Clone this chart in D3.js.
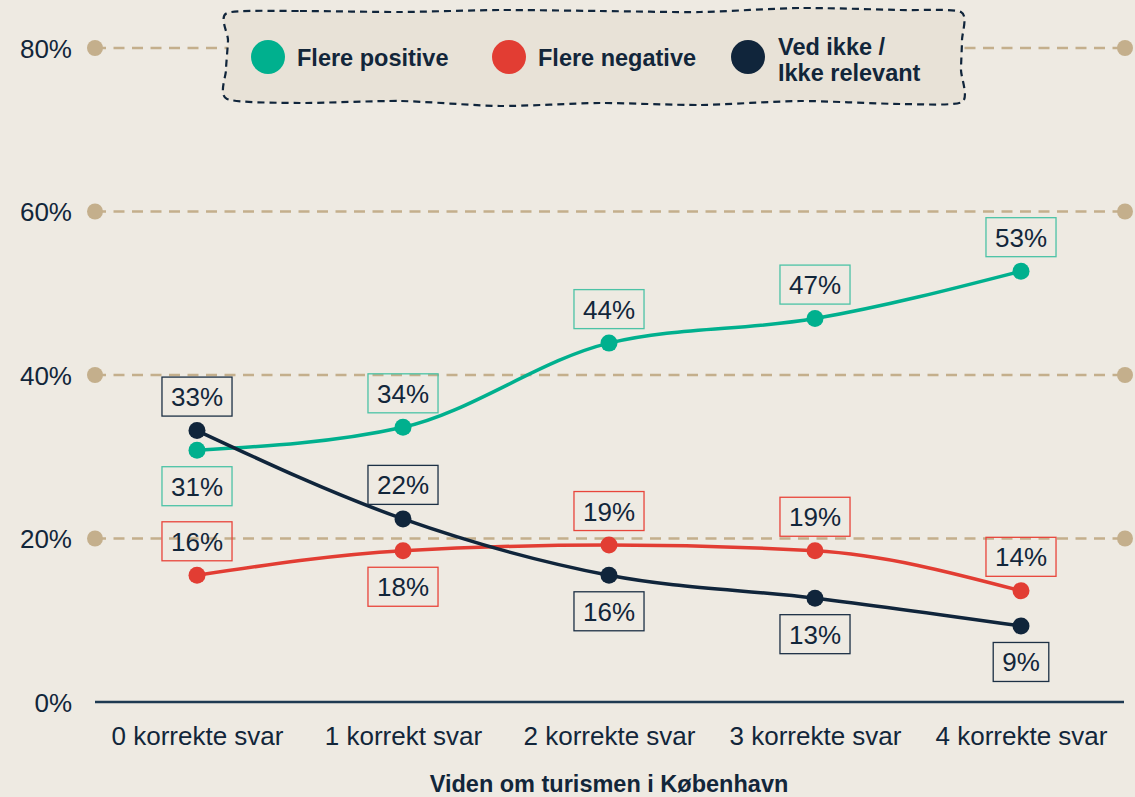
<!DOCTYPE html>
<html><head><meta charset="utf-8">
<script src="https://cdn.jsdelivr.net/npm/d3@7"></script>
<style>
body{margin:0;background:#EEEAE2;}
svg{display:block;font-family:"Liberation Sans",Arial,sans-serif;}
</style></head><body>
<svg id="c" width="1135" height="797"></svg>
<script>
const categories = ["0 korrekte svar","1 korrekt svar","2 korrekte svar","3 korrekte svar","4 korrekte svar"];
const positive = [30.8, 33.6, 43.9, 46.9, 52.7];
const negative = [15.5, 18.5, 19.2, 18.5, 13.6];
const unknown  = [33.2, 22.4, 15.5, 12.7, 9.3];
const positiveLabels = ["31%","34%","44%","47%","53%"];
const negativeLabels = ["16%","18%","19%","19%","14%"];
const unknownLabels  = ["33%","22%","16%","13%","9%"];
const positiveSide = [1,-1,-1,-1,-1];
const negativeSide = [-1,1,-1,-1,-1];
const unknownSide  = [-1,-1,1,1,1];
const yTicks = [0,20,40,60,80];
const yTickLabels = ["0%","20%","40%","60%","80%"];
const legendNames = ["Flere positive","Flere negative","Ved ikke /|Ikke relevant"];

const colors = {pos:"#00B08E", neg:"#E23D33", unk:"#10253B"};
const boxColors = {pos:"#4CC3A6", neg:"#E8453B", unk:"#1C3045"};
const textColor = "#12263A";

const svg = d3.select("#c");
svg.append("rect").attr("width",1135).attr("height",797).attr("fill","#EEEAE2");

const x = d3.scalePoint().domain(categories).range([94,1124]).padding(0.5);
const y = d3.scaleLinear().domain([0,80]).range([702,48]);

// grid
const grid = svg.append("g");
yTicks.filter(t=>t>0).forEach(t=>{
  grid.append("line").attr("x1",95).attr("x2",1125).attr("y1",y(t)).attr("y2",y(t))
    .attr("stroke","#C4AF8C").attr("stroke-width",2.5).attr("stroke-dasharray","11,7.5");
  grid.append("circle").attr("cx",95).attr("cy",y(t)).attr("r",8).attr("fill","#C4AF8C");
  grid.append("circle").attr("cx",1125).attr("cy",y(t)).attr("r",8).attr("fill","#C4AF8C");
});

// y labels
const yAxis = d3.axisLeft(y).tickValues(yTicks).tickFormat((d,i)=>yTickLabels[i]).tickSize(0).tickPadding(0);
const ya = svg.append("g").attr("transform","translate(72,0)").call(yAxis);
ya.select(".domain").remove();
ya.selectAll("text").attr("font-size",26).attr("fill",textColor).attr("font-family","Liberation Sans, Arial, sans-serif").attr("dy","0.35em");

// x axis
const xAxis = d3.axisBottom(x).tickSize(0).tickPadding(0);
const xa = svg.append("g").attr("transform","translate(0,702)").call(xAxis);
xa.select(".domain").remove();
xa.selectAll("text").attr("font-size",26).attr("fill",textColor).attr("font-family","Liberation Sans, Arial, sans-serif").attr("y",43).attr("dy",0);
svg.append("line").attr("x1",95).attr("x2",1124).attr("y1",702).attr("y2",702).attr("stroke","#1E3A52").attr("stroke-width",2.5);

svg.append("text").attr("x",609).attr("y",792).attr("text-anchor","middle").attr("font-size",23.5).attr("font-weight","bold").attr("fill",textColor).text("Viden om turismen i København");

// series
const series = [
  {key:"pos", vals:positive, labels:positiveLabels, side:positiveSide},
  {key:"neg", vals:negative, labels:negativeLabels, side:negativeSide},
  {key:"unk", vals:unknown, labels:unknownLabels, side:unknownSide}
];
const line = d3.line().x((d,i)=>x(categories[i])).y(d=>y(d)).curve(d3.curveMonotoneX);
const lg = svg.append("g");
series.forEach(s=>{
  lg.append("path").attr("d",line(s.vals)).attr("fill","none").attr("stroke",colors[s.key]).attr("stroke-width",3.5);
});
series.forEach(s=>{
  s.vals.forEach((v,i)=>{
    lg.append("circle").attr("cx",x(categories[i])).attr("cy",y(v)).attr("r",8.5).attr("fill",colors[s.key]);
  });
});
// labels
const labG = svg.append("g");
series.forEach(s=>{
  s.vals.forEach((v,i)=>{
    const cx = x(categories[i]);
    const cy = y(v) + (s.side[i]<0 ? -34 : 36);
    const t = labG.append("text").attr("x",cx).attr("y",cy+9.5).attr("text-anchor","middle")
      .attr("font-size",26).attr("fill",textColor).text(s.labels[i]);
    const w = t.node().getComputedTextLength() + 18;
    labG.insert("rect","text").attr("x",cx-w/2).attr("y",cy-19.5).attr("width",w).attr("height",39)
      .attr("fill","none").attr("stroke",boxColors[s.key]).attr("stroke-width",1.3);
  });
});

// legend box (wavy)
const wav = [
  [227,13],[300,11],[400,12],[500,10],[600,11],[700,12],[800,8],[900,10],[961,12],
  [962,40],[961,70],[962,102],
  [900,104],[800,101],[700,105],[600,103],[500,106],[400,101],[300,103],[227,99],
  [226,70],[228,40]
];
const wline = d3.line().curve(d3.curveCardinalClosed.tension(0.3));
svg.append("path").attr("d",wline(wav)).attr("fill","#E8E2D7").attr("stroke","#10253B")
  .attr("stroke-width",2.2).attr("stroke-dasharray","7,5");

const legX = [268,509,748];
const lgd = svg.append("g");
legendNames.forEach((n,i)=>{
  const key = series[i].key;
  lgd.append("circle").attr("cx",legX[i]).attr("cy",57).attr("r",17).attr("fill",colors[key]);
  const parts = n.split("|");
  const t = lgd.append("text").attr("font-size",23.5).attr("font-weight","bold").attr("fill",textColor);
  if(parts.length===1){
    t.append("tspan").attr("x",legX[i]+29).attr("y",66).text(parts[0]);
  } else {
    t.append("tspan").attr("x",legX[i]+30).attr("y",55).text(parts[0]);
    t.append("tspan").attr("x",legX[i]+30).attr("y",81).text(parts[1]);
  }
});
</script>
</body></html>
